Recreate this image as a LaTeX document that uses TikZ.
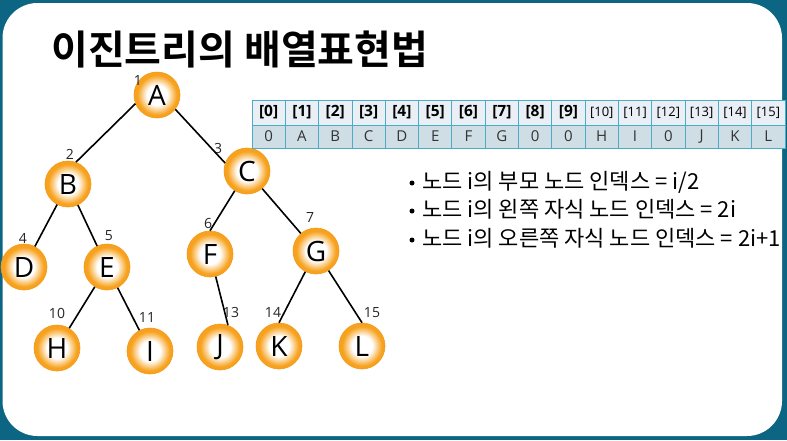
\documentclass[tikz,border=0pt]{standalone}
\usepackage{fontspec}
\setmainfont{Open Sans}
\newfontfamily\kr[BoldFont={Noto Sans CJK KR Bold}]{Noto Sans CJK KR}
\definecolor{bg}{RGB}{11,101,131}
\definecolor{orng}{RGB}{247,162,30}
\definecolor{orngd}{RGB}{244,152,22}
\definecolor{hdr}{RGB}{233,239,245}
\definecolor{dat}{RGB}{207,221,229}
\definecolor{tbl}{RGB}{75,172,198}
\pgfdeclareradialshading{ball}{\pgfpoint{0bp}{0bp}}{color(0bp)=(white); color(11bp)=(white); color(21.5bp)=(orng); color(25bp)=(orng); color(50bp)=(orng)}
\tikzset{
  tn/.style={circle, minimum size=46pt, inner sep=0pt, shading=ball, draw=orngd, line width=0.6pt, font=\fontsize{28}{30}\selectfont},
  lbl/.style={font=\fontsize{14}{16}\selectfont, text=black!85, inner sep=0pt},
  edge/.style={line width=1.6pt, black},
  hcell/.style={draw=tbl, line width=0.8pt, fill=hdr, minimum width=33.31pt, minimum height=25pt, inner sep=0pt, font=\bfseries\fontsize{15.5}{17}\selectfont},
  hcellb/.style={hcell, font=\fontsize{13}{14}\selectfont},
  dcell/.style={draw=tbl, line width=0.8pt, fill=dat, minimum width=33.31pt, minimum height=23pt, inner sep=0pt, text=black!80, font=\fontsize{15}{16}\selectfont},
  btxt/.style={anchor=base west, inner sep=0pt, font=\kr\fontsize{22}{24}\selectfont},
  bdot/.style={circle, fill=black, inner sep=0pt, minimum size=5pt}
}
\begin{document}
\begin{tikzpicture}[x=1pt,y=-1pt]
\fill[bg] (0,0) rectangle (787,440);
\fill[white, rounded corners=35pt] (2.5,3) rectangle (782,436);
\node[anchor=base west, inner sep=0pt, font=\kr\bfseries\fontsize{40}{44}\selectfont] (title) at (51,64) {이진트리의 배열표현법};
% tree nodes
\node[tn] (A) at (157,95) {A};
\node[tn] (B) at (68,184) {B};
\node[tn] (C) at (247,171) {C};
\node[tn] (D) at (24,267) {D};
\node[tn] (E) at (107,267) {E};
\node[tn] (F) at (210,254) {F};
\node[tn] (G) at (316,251) {G};
\node[tn] (H) at (57,348) {H};
\node[tn] (I) at (150,351) {I};
\node[tn] (J) at (220,347) {J};
\node[tn] (K) at (279,346) {K};
\node[tn] (L) at (362,346) {L};
% index labels
\node[lbl] (n1) at (138,80) {1};
\node[lbl] (n2) at (70,154) {2};
\node[lbl] (n3) at (218,148) {3};
\node[lbl] (n4) at (23,238) {4};
\node[lbl] (n5) at (109,236) {5};
\node[lbl] (n6) at (208,223) {6};
\node[lbl] (n7) at (310,217) {7};
\node[lbl] (n10) at (57,313) {10};
\node[lbl] (n11) at (147,317) {11};
\node[lbl] (n13) at (231,312) {13};
\node[lbl] (n14) at (273,312) {14};
\node[lbl] (n15) at (372,313) {15};
% edges
\draw[edge] (A.202) -- (B.70);
\draw[edge] (A.322) -- (C.160);
\draw[edge] (B) -- (D);
\draw[edge] (B) -- (E);
\draw[edge] (C) -- (F.north);
\draw[edge] (C) -- (G);
\draw[edge] (E) -- (H);
\draw[edge] (E) -- (I);
\draw[edge] (F) -- (J.70);
\draw[edge] (G) -- (K.north);
\draw[edge] (G) -- (L.north);
% table
\foreach \i/\v in {0/0,1/A,2/B,3/C,4/D,5/E,6/F,7/G,8/0,9/0,10/H,11/I,12/0,13/J,14/K,15/L}{
  \pgfmathsetmacro{\cx}{252+33.31*(\i+0.5)}
  \ifnum\i<10
    \node[hcell] (h\i) at (\cx,112.5) {[\i]};
  \else
    \node[hcellb] (h\i) at (\cx,112.5) {[\i]};
  \fi
  \node[dcell] (d\i) at (\cx,136.5) {\v};
}
% bullets
\node[bdot] (p1) at (412,183) {};
\node[btxt] (t1) at (422,189) {노드 i의 부모 노드 인덱스 = i/2};
\node[bdot] (p2) at (412,211) {};
\node[btxt] (t2) at (422,217) {노드 i의 왼쪽 자식 노드 인덱스 = 2i};
\node[bdot] (p3) at (412,240) {};
\node[btxt] (t3) at (422,246) {노드 i의 오른쪽 자식 노드 인덱스 = 2i+1};
\end{tikzpicture}
\end{document}
